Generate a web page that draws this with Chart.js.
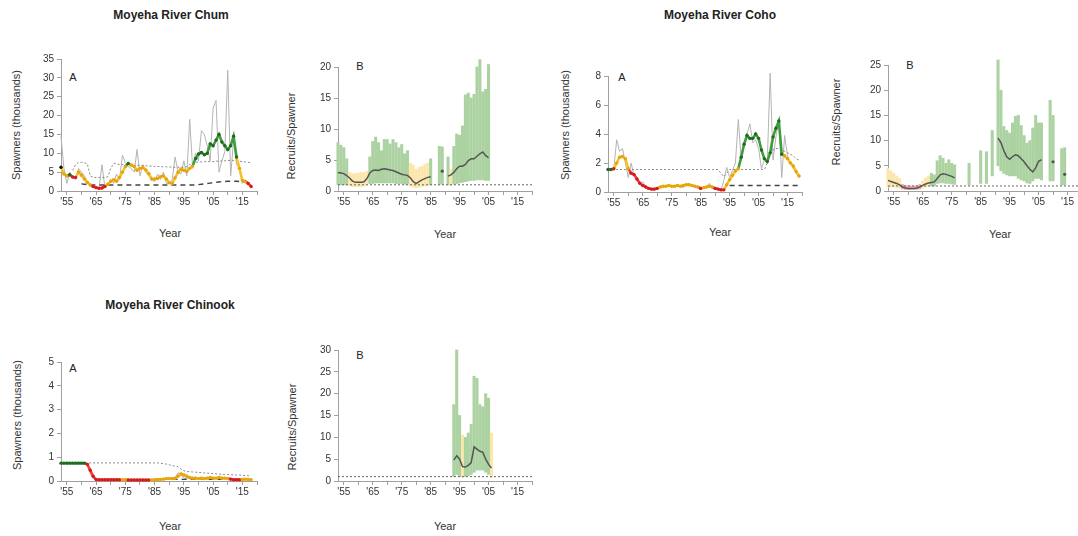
<!DOCTYPE html>
<html><head><meta charset="utf-8">
<script src="https://cdn.jsdelivr.net/npm/chart.js@4.4.1/dist/chart.umd.min.js"></script>
<style>
html,body{margin:0;padding:0;background:#fff}
body{width:1078px;height:536px;overflow:hidden;position:relative;font-family:"Liberation Sans",Arial,sans-serif}
canvas.c{position:absolute}
.t{position:absolute;white-space:nowrap;color:#333;font-size:11px;line-height:1;transform:translate(-50%,-50%)}
.title{font-weight:bold;font-size:12px;color:#222}
.yl{transform:translate(-50%,-50%) rotate(-90deg)}
.pl{font-size:11px;color:#222}
</style></head><body>
<div class="t title" style="left:171px;top:15px">Moyeha River Chum</div>
<div class="t title" style="left:720px;top:15px">Moyeha River Coho</div>
<div class="t title" style="left:170px;top:305px">Moyeha River Chinook</div>

<div class="t yl" style="left:16px;top:125px">Spawners (thousands)</div>
<div class="t yl" style="left:291px;top:136px">Recruits/Spawner</div>
<div class="t yl" style="left:565px;top:125px">Spawners (thousands)</div>
<div class="t yl" style="left:836px;top:122px">Recruits/Spawner</div>
<div class="t yl" style="left:17px;top:415px">Spawners (thousands)</div>
<div class="t yl" style="left:292px;top:427px">Recruits/Spawner</div>

<div class="t pl" style="left:73px;top:77px">A</div>
<div class="t pl" style="left:360px;top:66px">B</div>
<div class="t pl" style="left:622px;top:77px">A</div>
<div class="t pl" style="left:910px;top:65px">B</div>
<div class="t pl" style="left:73px;top:368px">A</div>
<div class="t pl" style="left:360px;top:355px">B</div>

<div class="t" style="left:170px;top:233px">Year</div>
<div class="t" style="left:445px;top:234px">Year</div>
<div class="t" style="left:720px;top:232px">Year</div>
<div class="t" style="left:1000px;top:234px">Year</div>
<div class="t" style="left:170px;top:526px">Year</div>
<div class="t" style="left:445px;top:526px">Year</div>

<script>
// ---------------- DATA ----------------
function range(a, b) { const r = []; for (let y = a; y <= b; y++) r.push(y); return r; }

const xTickYears = [1955, 1960, 1965, 1970, 1975, 1980, 1985, 1990, 1995, 2000, 2005, 2010, 2015, 2020];

// Chum A (1953-2018)
const chumYears = range(1953, 2018);
const chumObs = [
  14.5, 6, 2, 5, 3.5, 3, 6, 5, 4, 2.5,
  1.5, 1.2, 0.8, 0.6, 7, 1, 1.5, 3, 2, 4.5,
  3, 9.5, 7.5, 6.5, 6, 5, 11, 4, 7, 5,
  4, 3, 2.5, 4.5, 3, 5, 2, 2, 3, 9,
  5, 4.5, 8, 4, 19, 6, 10, 8, 16, 15,
  12, 8, 22, 24, 5, 8, 10.5, 32, 4, 13.5,
  7, 6, 2, 3, 2, 1];
const chumSmooth = [
  6.3, 4.5, 4.0, 4.3, 3.7, 3.6, 5.0, 4.2, 3.2, 2.3,
  1.6, 1.2, 0.9, 0.7, 0.8, 1.2, 1.8, 2.6, 3.0, 2.6,
  3.6, 5.0, 6.5, 7.3, 6.9, 6.5, 5.5, 6.0, 6.2, 5.6,
  4.6, 3.2, 3.2, 3.3, 3.8, 4.0, 3.2, 2.2, 2.0, 3.5,
  5.0, 5.8, 5.5, 5.2, 6.0, 6.6, 8.6, 9.8, 10.2, 9.6,
  10.0, 12.5, 12.0, 13.5, 15.0, 13.0, 12.0, 11.0, 12.0, 14.5,
  9.0, 6.0, 2.8, 2.5, 2.0, 1.2];
const chumStatus = [
  'k','y','y','g','r','r','y','y','y','y',
  'y','r','r','r','r','r','y','y','y','y',
  'y','y','y','g','y','y','y','y','y','y',
  'y','y','y','y','y','y','y','y','y','y',
  'y','y','y','y','y','y','g','g','g','g',
  'g','g','g','g','g','g','g','g','g','g',
  'g','y','y','y','r','r'];
const chumUpper = [
  null, null, null, null, 5.5, 7.0, 7.6, 7.6, 7.5, 7.2,
  4.0, 3.6, 3.6, 3.6, 3.6, 3.6, 3.8, 6.0, 7.3, 7.2,
  7.0, 7.0, 6.9, 6.9, 6.8, 6.8, 6.8, 6.8, 6.7, 6.7,
  6.6, 6.6, 6.5, 6.5, 6.5, 6.4, 6.4, 6.4, 6.3, 6.3,
  6.3, 6.3, 6.3, 6.5, 7.0, 7.4, 7.6, 7.7, 7.7, 7.8,
  7.8, 7.8, 7.8, 7.9, 7.9, 8.0, 8.0, 8.1, 8.1, 8.1,
  8.0, 7.9, 7.8, 7.7, 7.6, 7.5];
const chumLower = [
  null, null, null, null, null, null, null, 1.9, 1.8, 1.7,
  1.6, 1.6, 1.6, 1.6, 1.6, 1.6, 1.6, 1.6, 1.6, 1.6,
  1.6, 1.6, 1.6, 1.6, 1.6, 1.6, 1.6, 1.6, 1.6, 1.6,
  1.6, 1.6, 1.6, 1.6, 1.6, 1.6, 1.6, 1.6, 1.6, 1.6,
  1.6, 1.6, 1.6, 1.6, 1.6, 1.6, 1.6, 1.7, 1.8, 1.9,
  2.0, 2.1, 2.2, 2.3, 2.4, 2.5, 2.5, 2.6, 2.6, 2.6,
  2.6, 2.5, 2.5, 2.4, 2.3, 2.3];

// Chum B (brood years 1953-2005)
const chumRSYears = range(1953, 2005);
const chumRSLow = [
  1.0, 1.0, 1.0, 1.0, 0.9, 0.7, 0.7, 0.7, 0.7, 0.8,
  1.0, 1.2, 1.2, 1.3, 1.3, 1.3, 1.3, 1.3, 1.3, 1.3,
  1.2, 1.2, 1.2, 1.1, 1.1, 0.8, 0.6, 0.5, 0.6, 0.7,
  0.8, 0.9, 1.0, null, null, 1.1, 1.1, null, 1.0, 0.9,
  1.1, 1.2, 1.3, 1.4, 1.5, 1.6, 1.7, 1.7, 1.8, 1.8,
  1.8, 1.7, 1.7];
const chumRSHigh = [
  7.8, 7.4, 7.0, 5.2, 3.0, 2.8, 2.8, 2.9, 3.0, 3.0,
  3.2, 5.5, 8.0, 8.7, 7.8, 6.5, 8.3, 8.3, 7.6, 8.3,
  7.8, 7.0, 7.5, 6.0, 6.5, 4.5, 4.2, 3.5, 3.8, 4.0,
  4.3, 4.5, 5.2, null, null, 7.2, 7.1, null, 5.5, 3.5,
  7.2, 9.2, 9.0, 10.5, 15.5, 15.8, 15.0, 15.6, 20.0, 21.2,
  16.0, 16.4, 20.4];
const chumRSStatus = [
  'g','g','g','g','y','y','y','y','y','y',
  'y','g','g','g','g','g','g','g','g','g',
  'g','g','g','g','g','y','y','y','y','y',
  'y','y','g',null,null,'g','g',null,'g','y',
  'g','g','g','g','g','g','g','g','g','g',
  'g','g','g'];
const chumRSMean = [
  3.0, 2.9, 2.8, 2.5, 2.1, 1.6, 1.4, 1.4, 1.4, 1.5,
  2.0, 2.9, 3.3, 3.4, 3.3, 3.5, 3.6, 3.5, 3.4, 3.3,
  3.1, 2.9, 2.7, 2.6, 2.5, 2.1, 1.5, 1.2, 1.5, 1.8,
  2.0, 2.2, 2.3, null, null, null, 3.2, null, 2.4, 2.6,
  3.0, 3.6, 4.0, 4.0, 4.3, 4.9, 5.2, 5.2, 5.6, 6.0,
  6.3, 5.7, 5.4];

// Coho A (1953-2019)
const cohoYears = range(1953, 2019);
const cohoObs = [
  1.5, 1.5, 1.6, 3.6, 2.8, 3.0, 2.0, 1.0, 2.0, 1.1,
  0.9, 0.5, 0.7, 0.4, 0.3, 0.25, 0.2, 0.3, 0.4, 0.35,
  0.45, 0.4, 0.35, 0.4, 0.5, 0.4, 0.3, 0.5, 0.6, 0.4,
  0.35, 0.3, 0.25, 0.3, 0.35, 0.6, 0.3, 0.2, 0.15, 0.1,
  0.8, 1.7, 1.0, 1.5, 2.0, 5.0, 2.2, 3.3, 4.0, 4.7,
  3.4, 3.6, 3.0, 1.6, 2.2, 2.0, 8.2, 2.2, 3.8, 5.0,
  1.0, 3.9, 2.5, 2.0, 1.6, 1.3, 1.0];
const cohoSmooth = [
  1.55, 1.55, 1.6, 2.0, 2.4, 2.45, 2.3, 1.6, 1.3, 1.2,
  0.9, 0.6, 0.45, 0.35, 0.25, 0.2, 0.2, 0.25, 0.35, 0.4,
  0.4, 0.45, 0.4, 0.4, 0.45, 0.4, 0.45, 0.5, 0.5, 0.45,
  0.4, 0.35, 0.25, 0.3, 0.35, 0.4, 0.35, 0.25, 0.2, 0.15,
  0.15, 0.5, 0.85, 1.15, 1.45, 1.6, 2.4, 3.3, 3.9, 3.7,
  3.7, 4.0, 3.7, 2.9, 2.3, 2.1, 2.7, 3.8, 4.4, 4.9,
  2.6, 2.5, 2.3, 2.0, 1.8, 1.4, 1.1];
const cohoStatus = [
  'g','g','r','y','y','y','y','y','r','r',
  'r','r','r','r','r','r','r','r','y','y',
  'y','y','y','y','y','y','y','y','y','y',
  'y','y','r','y','y','y','y','r','r','r',
  'r','y','y','y','y','y','g','g','g','g',
  'g','g','g','g','g','g','g','g','g','g',
  'g','y','y','y','y','y','y'];
const cohoUpper = [
  1.55, 1.55, 1.55, 1.55, 1.55, 1.55, 1.55, 1.55, 1.55, 1.55,
  1.55, 1.55, 1.55, 1.55, 1.55, 1.55, 1.55, 1.55, 1.55, 1.55,
  1.55, 1.55, 1.55, 1.55, 1.55, 1.55, 1.55, 1.55, 1.55, 1.55,
  1.55, 1.55, 1.55, 1.55, 1.55, 1.55, 1.55, 1.55, 1.55, 1.3,
  1.05, 1.3, 1.55, 1.55, 1.55, 1.55, 1.55, 1.55, 1.55, 1.55,
  1.55, 1.55, 1.55, 1.55, 1.55, 2.0, 2.6, 2.9, 3.0, 3.0,
  2.9, 2.8, 2.7, 2.6, 2.5, 2.3, 2.2];
const cohoLower = [
  null, null, null, null, null, null, null, null, null, null,
  null, null, null, null, null, null, null, null, null, null,
  null, null, null, null, null, null, null, null, null, null,
  null, null, null, null, null, null, null, null, null, null,
  null, null, 0.45, 0.45, 0.45, 0.45, 0.45, 0.45, 0.45, 0.45,
  0.45, 0.45, 0.45, 0.45, 0.45, 0.45, 0.45, 0.45, 0.45, 0.45,
  0.45, 0.45, 0.45, 0.45, 0.45, 0.45, 0.45];

// Coho B (brood years 1953-2014)
const cohoRSYears = range(1953, 2014);
const cohoRSLow = [
  0.8, 0.8, 0.8, 0.7, 0.6, 0.4, 0.3, 0.3, 0.3, 0.3,
  0.3, 0.4, 0.6, 0.8, 0.9, 1.0, 1.0, 1.5, 1.6, 1.6,
  1.5, 1.5, 1.4, 1.3, null, null, null, null, 1.2, null,
  null, null, 1.5, null, 1.5, null, 3.0, null, 5.0, 4.0,
  3.5, 3.2, 3.0, 3.0, 3.0, 2.5, 2.2, 2.0, 1.6, 1.5,
  2.0, 2.5, 2.5, 2.2, null, null, 2.0, 2.0, null, null,
  1.2, 1.2];
const cohoRSHigh = [
  4.5, 4.0, 3.5, 3.0, 2.5, 1.3, 1.1, 1.0, 1.0, 1.0,
  1.1, 1.3, 2.0, 2.6, 3.0, 3.5, 3.2, 6.0, 7.0, 6.5,
  5.5, 6.2, 5.5, 5.2, null, null, null, null, 5.5, null,
  null, null, 8.0, null, 7.8, null, 12.0, null, 26.0, 20.0,
  12.8, 12.0, 11.5, 13.5, 14.8, 15.0, 13.0, 11.0, 9.5, 10.0,
  12.5, 15.0, 13.5, 13.5, null, null, 18.0, 15.0, null, null,
  8.4, 8.6];
const cohoRSStatus = [
  'y','y','y','y','y','r','r','r','r','r',
  'r','r','y','y','y','g','g','g','g','g',
  'g','g','g','g',null,null,null,null,'g',null,
  null,null,'g',null,'g',null,'g',null,'g','g',
  'g','g','g','g','g','g','g','g','g','g',
  'g','g','g','g',null,null,'g','g',null,null,
  'g','g'];
const cohoRSMean = [
  2.1, 1.9, 1.7, 1.5, 1.2, 0.8, 0.6, 0.5, 0.5, 0.5,
  0.6, 0.8, 1.1, 1.4, 1.6, 1.7, 1.8, 2.5, 3.2, 3.4,
  3.3, 3.1, 2.9, 2.6, null, null, null, null, null, null,
  null, null, null, null, null, null, null, null, 10.5, 9.6,
  8.0, 6.8, 6.3, 6.8, 7.2, 7.0, 6.4, 5.8, 5.0, 4.3,
  3.8, 4.6, 5.9, 6.2, null, null, null, 5.8, null, null,
  null, 3.3];

// Chinook A (1953-2018)
const chinookYears = range(1953, 2018);
const chinookObs = [
  0.75, 0.75, 0.75, 0.75, 0.75, 0.75, 0.75, 0.75, 0.75, 0.72,
  0.3, 0.1, 0.03, 0.02, 0.02, 0.03, 0.02, 0.02, 0.03, 0.02,
  0.02, 0.03, 0.02, 0.02, 0.02, 0.03, 0.02, 0.02, 0.02, 0.02,
  0.02, 0.03, 0.04, 0.05, 0.06, 0.08, 0.1, 0.08, 0.06, 0.12,
  0.35, 0.25, 0.12, 0.1, 0.15, 0.08, 0.12, 0.1, 0.15, 0.1,
  0.12, 0.18, 0.1, 0.12, 0.2, 0.1, 0.12, 0.08, 0.05, 0.04,
  0.05, 0.05, 0.08, 0.1, 0.05, 0.04];
const chinookSmooth = [
  0.75, 0.75, 0.75, 0.75, 0.75, 0.75, 0.75, 0.75, 0.75, 0.70,
  0.45, 0.2, 0.06, 0.05, 0.05, 0.05, 0.05, 0.05, 0.05, 0.05,
  0.05, 0.05, 0.05, 0.04, 0.04, 0.04, 0.04, 0.04, 0.04, 0.04,
  0.04, 0.04, 0.05, 0.06, 0.07, 0.08, 0.1, 0.1, 0.1, 0.12,
  0.2, 0.3, 0.25, 0.2, 0.15, 0.12, 0.12, 0.1, 0.12, 0.1,
  0.12, 0.15, 0.12, 0.12, 0.15, 0.12, 0.12, 0.1, 0.08, 0.05,
  0.05, 0.05, 0.06, 0.08, 0.06, 0.05];
const chinookStatus = [
  'g','g','g','g','g','g','g','g','g','r',
  'r','r','r','r','r','r','r','r','r','r',
  'r','y','y','r','r','r','r','r','r','r',
  'r','y','y','y','y','y','y','y','y','y',
  'y','y','y','y','y','y','y','y','y','y',
  'y','y','y','y','y','y','y','y','r','r',
  'r','r','y','y','y','y'];
const chinookUpper = [
  0.76, 0.76, 0.76, 0.76, 0.76, 0.76, 0.76, 0.76, 0.76, 0.76,
  0.76, 0.76, 0.76, 0.76, 0.76, 0.76, 0.76, 0.76, 0.76, 0.76,
  0.76, 0.76, 0.76, 0.76, 0.76, 0.76, 0.76, 0.76, 0.76, 0.76,
  0.76, 0.76, 0.76, 0.76, 0.75, 0.73, 0.71, 0.68, 0.65, 0.62,
  0.6, 0.5, 0.43, 0.4, 0.39, 0.38, 0.37, 0.36, 0.35, 0.34,
  0.33, 0.32, 0.31, 0.3, 0.29, 0.28, 0.27, 0.27, 0.26, 0.26,
  0.25, 0.25, 0.24, 0.23, 0.22, 0.22];
const chinookLower = [
  null, null, null, null, null, null, null, null, null, null,
  null, null, null, null, null, null, null, null, null, null,
  null, null, null, null, null, null, null, null, null, null,
  null, null, 0.07, 0.07, 0.07, 0.07, 0.07, 0.07, 0.07, 0.07,
  0.07, 0.07, 0.07, 0.07, 0.07, 0.07, 0.07, 0.07, 0.07, 0.07,
  0.07, 0.07, 0.07, 0.07, 0.07, 0.07, 0.07, 0.07, 0.07, 0.07,
  0.07, 0.07, 0.07, 0.07, 0.07, 0.07];

// Chinook B (brood years 1993-2006)
const chinookRSYears = range(1993, 2006);
const chinookRSLow = [1.0, 1.5, 1.0, 0.8, 1.0, 1.2, 1.5, 2.0, 2.5, 2.5, 2.5, 2.0, 1.5, 0.8];
const chinookRSHigh = [17.5, 30.0, 15.0, 10.5, 10.0, 11.0, 13.0, 24.0, 23.5, 17.5, 17.0, 20.0, 19.0, 11.0];
const chinookRSStatus = ['g','g','g','y','g','g','g','g','g','g','g','g','g','y'];
const chinookRSMean = [4.8, 5.8, 5.0, 3.3, 3.2, 3.6, 4.2, 7.8, 7.3, 6.8, 6.6, 5.0, 3.8, 3.0];

const replacementYears = [1953, 2020];
const replacementLevel = [1, 1];

// ---------------- STYLE / HELPERS ----------------
Chart.defaults.font.family = '"Liberation Sans", Arial, sans-serif';
Chart.defaults.animation = false;

const LINE_COL = {g: '#3f9c3c', y: '#f6c12c', r: '#f03a36', k: '#333333'};
const PT_COL = {g: '#1d6b1d', y: '#e5a50c', r: '#d51c1c', k: '#111111'};
const BAND_COL = {g: 'rgb(171,210,160)', y: 'rgb(252,230,172)', r: 'rgb(244,170,168)'};
const AX = '#a0a0a0';

function pts(years, vals) { return years.map((x, i) => ({x: x, y: vals[i]})); }

const YW = 40, PT = 10, PR = 12, XH = 30;

function makeChart(g, datasets, yMax, yTicks) {
  const w = YW + (g.r - g.l) + PR, h = PT + (g.b - g.t) + XH;
  const c = document.createElement('canvas');
  c.className = 'c';
  c.width = w; c.height = h;
  c.style.width = w + 'px'; c.style.height = h + 'px';
  c.style.left = (g.l - YW) + 'px'; c.style.top = (g.t - PT) + 'px';
  document.body.appendChild(c);
  return new Chart(c, {
    type: 'line',
    data: {datasets: datasets},
    options: {
      responsive: false, devicePixelRatio: 1, animation: false,
      layout: {padding: {top: PT, right: PR, left: 0, bottom: 0}},
      plugins: {legend: {display: false}, tooltip: {enabled: false}, title: {display: false}},
      scales: {
        x: {
          type: 'linear', min: 1953, max: 2020, offset: false,
          afterBuildTicks: s => { s.ticks = xTickYears.map(v => ({value: v})); },
          afterFit: s => { s.height = XH; },
          ticks: {autoSkip: false, maxRotation: 0, minRotation: 0, padding: 1, color: '#333', font: {size: 10},
                  callback: v => ((v - 1955) % 10 === 0 ? "'" + String(v).slice(2) : '')},
          grid: {display: true, offset: false, drawOnChartArea: false, drawTicks: true, tickLength: 4, color: AX},
          border: {display: true, color: AX, width: 1}
        },
        y: {
          type: 'linear', min: 0, max: yMax,
          afterBuildTicks: s => { s.ticks = yTicks.map(v => ({value: v})); },
          afterFit: s => { s.width = YW; },
          ticks: {autoSkip: false, padding: 3, color: '#333', font: {size: 10}, callback: v => String(v)},
          grid: {display: true, drawOnChartArea: false, drawTicks: true, tickLength: 4, color: AX},
          border: {display: true, color: AX, width: 1}
        }
      }
    }
  });
}

function spawnerDatasets(years, obs, smooth, status, upper, lower) {
  return [
    {data: pts(years, smooth), order: 0, borderWidth: 2.6, clip: false, spanGaps: false,
     borderColor: LINE_COL.y,
     segment: {borderColor: ctx => LINE_COL[status[ctx.p1DataIndex]]},
     pointRadius: 1.7, pointHoverRadius: 1.7, pointBorderWidth: 0,
     pointBackgroundColor: status.map(s => PT_COL[s])},
    {data: pts(years, lower), order: 1, borderColor: '#444', borderWidth: 1.4, borderDash: [5, 4],
     pointRadius: 0, clip: false, spanGaps: false},
    {data: pts(years, upper), order: 2, borderColor: '#888', borderWidth: 1, borderDash: [2, 2],
     pointRadius: 0, clip: false, spanGaps: false},
    {data: pts(years, obs), order: 3, borderColor: '#b4b4b4', borderWidth: 1, pointRadius: 0,
     clip: false, spanGaps: false}
  ];
}

function rsDatasets(years, low, high, status, mean) {
  const bars = [], cols = [];
  years.forEach((x, i) => {
    if (low[i] != null && high[i] != null) { bars.push({x: x, y: [low[i], high[i]]}); cols.push(BAND_COL[status[i]]); }
  });
  const m = pts(years, mean);
  return [
    {data: m, order: 0, borderColor: '#555', borderWidth: 1.5, clip: false, spanGaps: false,
     pointBackgroundColor: '#555', pointBorderWidth: 0,
     pointRadius: ctx => {
       const i = ctx.dataIndex, d = m;
       if (d[i].y == null) return 0;
       const p = i > 0 ? d[i - 1].y : null, n = i < d.length - 1 ? d[i + 1].y : null;
       return (p == null && n == null) ? 1.6 : 0;
     }},
    {data: pts(replacementYears, replacementLevel), order: 1, borderColor: '#666', borderWidth: 1,
     borderDash: [2, 2], pointRadius: 0, clip: false},
    {type: 'bar', data: bars, order: 2, backgroundColor: cols, borderWidth: 0, barThickness: 2.4,
     grouped: false, clip: false}
  ];
}

// ---------------- PANELS ----------------
makeChart({l: 61, r: 257, t: 59, b: 191},
  spawnerDatasets(chumYears, chumObs, chumSmooth, chumStatus, chumUpper, chumLower),
  35, [0, 5, 10, 15, 20, 25, 30, 35]);

makeChart({l: 338, r: 532, t: 67, b: 191},
  rsDatasets(chumRSYears, chumRSLow, chumRSHigh, chumRSStatus, chumRSMean),
  20, [0, 5, 10, 15, 20]);

makeChart({l: 608, r: 802, t: 76, b: 192},
  spawnerDatasets(cohoYears, cohoObs, cohoSmooth, cohoStatus, cohoUpper, cohoLower),
  8, [0, 2, 4, 6, 8]);

makeChart({l: 888, r: 1082, t: 65, b: 191},
  rsDatasets(cohoRSYears, cohoRSLow, cohoRSHigh, cohoRSStatus, cohoRSMean),
  25, [0, 5, 10, 15, 20, 25]);

makeChart({l: 61, r: 257, t: 362, b: 481},
  spawnerDatasets(chinookYears, chinookObs, chinookSmooth, chinookStatus, chinookUpper, chinookLower),
  5, [0, 1, 2, 3, 4, 5]);

makeChart({l: 338, r: 532, t: 350, b: 481},
  rsDatasets(chinookRSYears, chinookRSLow, chinookRSHigh, chinookRSStatus, chinookRSMean),
  30, [0, 5, 10, 15, 20, 25, 30]);
</script>
</body></html>
